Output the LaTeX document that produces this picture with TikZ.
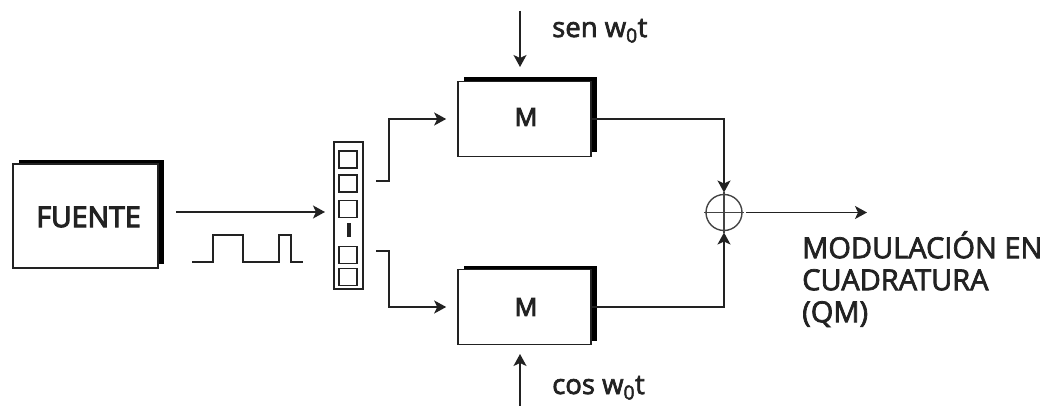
\documentclass[tikz,border=0pt]{standalone}
\usepackage{fontspec}
\setmainfont{Open Sans}
\newfontfamily\labelfont{Open Sans}[FakeBold=2.5]
\newfontfamily\blockfont{Open Sans}[FakeBold=4]
\usetikzlibrary{arrows.meta,shadows}
\definecolor{BlockInk}{HTML}{222222}
\definecolor{SumInk}{HTML}{444444}
\tikzset{
  blockbox/.style={draw=BlockInk, line width=1.6pt, fill=white, inner sep=0pt,
    drop shadow={shadow xshift=6pt, shadow yshift=4pt, fill=black, opacity=1}},
  cellbox/.style={draw=BlockInk, line width=1.5pt, inner sep=0pt,
    minimum width=18pt, minimum height=17pt},
  signal/.style={-{Stealth[length=12pt,width=13pt,inset=3pt]}, line width=1.6pt, draw=BlockInk, fill=BlockInk},
  wire/.style={line width=1.6pt, draw=BlockInk},
  blocklabel/.style={font=\blockfont\fontsize{28.5}{28.5}\selectfont, text=BlockInk},
  carrierlabel/.style={font=\labelfont\fontsize{27.5}{31}\selectfont, text=BlockInk, anchor=base west, inner sep=0pt},
  outlabel/.style={font=\labelfont\fontsize{29}{32}\selectfont, text=BlockInk, align=left, anchor=north west, inner sep=0pt}
}

\begin{document}
\begin{tikzpicture}[x=1pt, y=-1pt]
  \useasboundingbox (0,0) rectangle (1049,406);
  % Source and the pulse train under its output
  \node[blockbox, minimum width=145pt, minimum height=104pt] (fuente) at (85.5,216) {};
  \node[blocklabel] (fuenteText) at (88.5,217) {FUENTE};
  \coordinate (pulseStart) at (192,262);
  \coordinate (pulseEnd) at (303,262);
  \draw[wire] (pulseStart) -- (213,262) -- (213,235) -- (243,235) -- (243,262)
    -- (279,262) -- (279,235) -- (291,235) -- (291,262) -- (pulseEnd);
  % Serial to parallel bar
  \node[draw=BlockInk, line width=1.5pt, minimum width=29pt, minimum height=147pt, inner sep=0pt] (mux) at (348.5,215.5) {};
  \node[cellbox] (cellA) at (348,159.5) {};
  \node[cellbox] (cellB) at (348,183.5) {};
  \node[cellbox] (cellC) at (348,209) {};
  \node[fill=BlockInk, minimum width=4pt, minimum height=14pt, inner sep=0pt] (cellGap) at (349,230) {};
  \node[cellbox] (cellD) at (348,255) {};
  \node[cellbox] (cellE) at (348,277) {};
  % Modulators
  \node[blockbox, minimum width=133pt, minimum height=75pt] (modUp) at (524.5,119) {};
  \node[blocklabel, font=\blockfont\fontsize{25}{25}\selectfont] (modUpText) at (526,117) {M};
  \node[blockbox, minimum width=133pt, minimum height=75pt] (modDown) at (524.5,307) {};
  \node[blocklabel, font=\blockfont\fontsize{25}{25}\selectfont] (modDownText) at (526,307) {M};
  % Adder
  \node[circle, draw=SumInk, line width=1.4pt, minimum size=36pt, inner sep=0pt, outer sep=2pt] (sum) at (724,212.5) {};
  \draw[draw=SumInk, line width=1.4pt] (sum.north) -- (sum.south);
  \draw[draw=SumInk, line width=1.4pt] (sum.west) -- (sum.east);
  % Input to the bar
  \coordinate (inStart) at (176,212);
  \coordinate (inEnd) at (325,212);
  \draw[signal] (inStart) -- (inEnd);
  % Bar to modulators
  \coordinate (muxUp) at (376,181);
  \coordinate (muxUpBend) at (389,181);
  \coordinate (muxDown) at (376,251);
  \coordinate (muxDownBend) at (389,251);
  \draw[signal, fill=none] (muxUp) -- (muxUpBend) |- ([xshift=-11pt]modUp.west);
  \draw[signal, fill=none] (muxDown) -- (muxDownBend) |- ([xshift=-11pt]modDown.west);
  % Carriers
  \coordinate (senStart) at (520,11);
  \coordinate (senEnd) at (520,67);
  \coordinate (cosStart) at (520,406);
  \coordinate (cosEnd) at (520,354);
  \draw[signal] (senStart) -- (senEnd);
  \draw[signal] (cosStart) -- (cosEnd);
  \node[carrierlabel] (senText) at (552,37) {sen w\textsubscript{0}t};
  \node[carrierlabel] (cosText) at (552,394) {cos w\textsubscript{0}t};
  % Modulators to adder, then output
  \draw[signal, fill=none] (modUp.east) -| (sum.north);
  \draw[signal, fill=none] (modDown.east) -| (sum.south);
  \coordinate (outEnd) at (867,212.5);
  \draw[signal] ([xshift=2pt]sum.east) -- (outEnd);
  \node[outlabel] (outText) at (802,231) {MODULACIÓN EN\\CUADRATURA\\(QM)};
\end{tikzpicture}
\end{document}
